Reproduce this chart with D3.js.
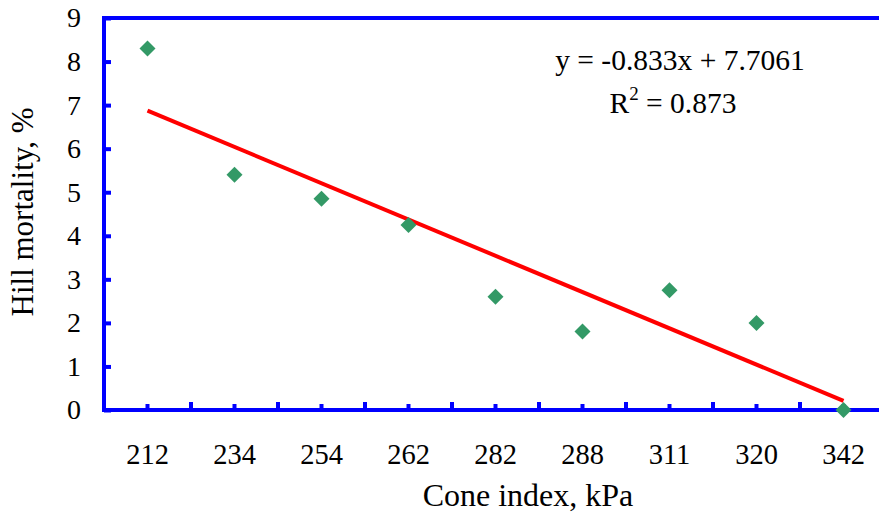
<!DOCTYPE html>
<html>
<head>
<meta charset="utf-8">
<script src="https://cdn.jsdelivr.net/npm/d3@7"></script>
<style>
  body { margin: 0; background: #fff; }
  svg text { font-family: "Liberation Serif", "Times New Roman", serif; fill: #000; }
</style>
</head>
<body>
<div id="chart"></div>
<script>
// chart data
const categories = ["212", "234", "254", "262", "282", "288", "311", "320", "342"];
const mortality = [8.3, 5.4, 4.85, 4.25, 2.6, 1.8, 2.75, 2.0, 0];
const yTicks = [0, 1, 2, 3, 4, 5, 6, 7, 8, 9];
const slope = -0.833;
const intercept = 7.7061;
const equationText = "y = -0.833x + 7.7061";
const r2Value = "0.873";

const width = 879, height = 513;
const plot = { left: 104, top: 18, right: 887, bottom: 410 };
const blue = "#0000FF";

const svg = d3.select("#chart")
    .append("svg")
    .attr("width", width)
    .attr("height", height);

// scales
const xBand = d3.scaleBand()
    .domain(categories)
    .range([plot.left, plot.right])
    .padding(0);

// position index (1..9) -> pixel, for the trend line
const xIdx = d3.scaleLinear()
    .domain([0.5, categories.length + 0.5])
    .range([plot.left, plot.right]);

const yScale = d3.scaleLinear()
    .domain([0, 9])
    .range([plot.bottom, plot.top]);

// y axis ticks pointing inward
const yAxisG = svg.append("g")
    .attr("transform", `translate(${plot.left},0)`)
    .call(d3.axisLeft(yScale).tickValues(yTicks).tickSize(-7).tickPadding(23));
yAxisG.select(".domain").remove();
yAxisG.selectAll(".tick line").attr("stroke", blue).attr("stroke-width", 4);
yAxisG.selectAll("text").style("font-size", "28px");

// x axis labels
const xAxisG = svg.append("g")
    .attr("transform", `translate(0,${plot.bottom})`)
    .call(d3.axisBottom(xBand).tickSize(0).tickPadding(34));
xAxisG.select(".domain").remove();
xAxisG.selectAll("text").style("font-size", "28.5px");

// x tick marks: tall at category boundaries, short at centres
const boundaries = d3.range(1, categories.length).map(i => xIdx(i + 0.5));
svg.append("g").selectAll("line")
    .data(boundaries)
    .join("line")
    .attr("x1", d => d).attr("x2", d => d)
    .attr("y1", plot.bottom).attr("y2", plot.bottom - 8)
    .attr("stroke", blue).attr("stroke-width", 4);

svg.append("g").selectAll("line")
    .data(categories)
    .join("line")
    .attr("x1", d => xBand(d) + xBand.bandwidth() / 2)
    .attr("x2", d => xBand(d) + xBand.bandwidth() / 2)
    .attr("y1", plot.bottom).attr("y2", plot.bottom - 6)
    .attr("stroke", blue).attr("stroke-width", 4);

// frame: left, top, bottom (right side is cut off)
svg.append("path")
    .attr("d", `M${plot.right},${plot.top}H${plot.left}V${plot.bottom}H${plot.right}`)
    .attr("fill", "none")
    .attr("stroke", blue)
    .attr("stroke-width", 4);

// trend line
const trendLine = d3.line()
    .x(d => xIdx(d))
    .y(d => yScale(slope * d + intercept));
svg.append("path")
    .datum([1, categories.length])
    .attr("d", trendLine)
    .attr("fill", "none")
    .attr("stroke", "#FF0000")
    .attr("stroke-width", 4);

// diamond markers
svg.append("g").selectAll("path")
    .data(mortality)
    .join("path")
    .attr("transform", (d, i) => `translate(${xBand(categories[i]) + xBand.bandwidth() / 2},${yScale(d)})`)
    .attr("d", "M0,-8L8,0L0,8L-8,0Z")
    .attr("fill", "#339966");

// equation labels
svg.append("text")
    .attr("x", 680)
    .attr("y", 70)
    .attr("text-anchor", "middle")
    .style("font-size", "29.5px")
    .text(equationText);

const r2 = svg.append("text")
    .attr("x", 673)
    .attr("y", 113)
    .attr("text-anchor", "middle")
    .style("font-size", "29.5px");
r2.append("tspan").text("R");
r2.append("tspan").attr("dy", -13).style("font-size", "19px").text("2");
r2.append("tspan").attr("dy", 13).text(" = " + r2Value);

// axis titles
svg.append("text")
    .attr("x", 528)
    .attr("y", 506)
    .attr("text-anchor", "middle")
    .style("font-size", "32px")
    .text("Cone index, kPa");

svg.append("text")
    .attr("transform", `translate(33,${(plot.top + plot.bottom) / 2 - 2}) rotate(-90)`)
    .attr("text-anchor", "middle")
    .style("font-size", "31px")
    .text("Hill mortality, %");
</script>
</body>
</html>
